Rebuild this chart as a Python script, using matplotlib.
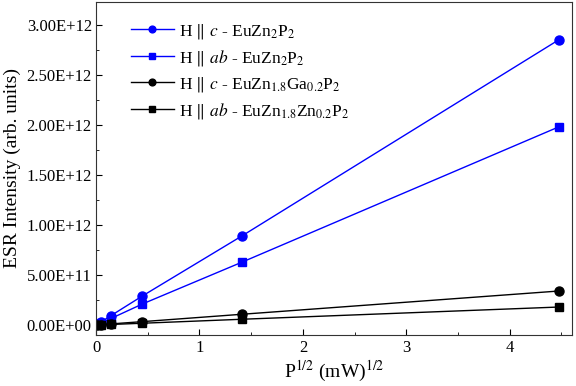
import matplotlib
matplotlib.use("Agg")
import matplotlib.pyplot as plt
from matplotlib.ticker import MultipleLocator, FuncFormatter

plt.rcParams['font.family'] = ['Liberation Serif', 'DejaVu Serif']
plt.rcParams['mathtext.fontset'] = 'stix'

x = [0.01414, 0.04472, 0.1414, 0.4472, 1.4142, 4.4721]
c_pure = [0.009e12, 0.028e12, 0.092e12, 0.29e12, 0.893e12, 2.85e12]
ab_pure = [0.006e12, 0.02e12, 0.064e12, 0.21e12, 0.63e12, 1.98e12]
c_ga = [0.001e12, 0.0034e12, 0.011e12, 0.034e12, 0.108e12, 0.34e12]
ab_zn = [0.0006e12, 0.0018e12, 0.0057e12, 0.018e12, 0.058e12, 0.18e12]

labels = [r'H $\Vert$ $c$ - EuZn$_2$P$_2$',
          r'H $\Vert$ $ab$ - EuZn$_2$P$_2$',
          r'H $\Vert$ $c$ - EuZn$_{1.8}$Ga$_{0.2}$P$_2$',
          r'H $\Vert$ $ab$ - EuZn$_{1.8}$Zn$_{0.2}$P$_2$']

fig = plt.figure(figsize=(5.76, 3.86), dpi=100)
ax = fig.add_axes([0.1667, 0.132, 0.826, 0.863])

ax.plot(x, c_pure, '-o', color='#0000ff', lw=1, ms=6.5, label=labels[0])
ax.plot(x, ab_pure, '-s', color='#0000ff', lw=1, ms=6, label=labels[1])
ax.plot(x, c_ga, '-o', color='black', lw=1, ms=6.5, label=labels[2])
ax.plot(x, ab_zn, '-s', color='black', lw=1, ms=6, label=labels[3])

ax.set_xlim(0, 4.6)
ax.set_ylim(-1.0e11, 3.23e12)
ax.xaxis.set_major_locator(MultipleLocator(1))
ax.xaxis.set_minor_locator(MultipleLocator(0.5))
ax.yaxis.set_major_locator(MultipleLocator(5e11))
ax.yaxis.set_minor_locator(MultipleLocator(2.5e11))
ax.yaxis.set_major_formatter(FuncFormatter(lambda v, p: ('%.2E' % v)))
ax.tick_params(which='both', direction='in', labelsize=12)
ax.tick_params(which='major', length=4)
ax.tick_params(which='minor', length=2.5)
ax.tick_params(axis='y', pad=3)
for s in ax.spines.values():
    s.set_color('#333333')

ax.set_xlabel(r'P$^{1/2}$ (mW)$^{1/2}$', fontsize=14, labelpad=2)
ax.set_ylabel('ESR Intensity (arb. units)', fontsize=14, labelpad=4)

ax.legend(loc='upper left', frameon=False, prop={'size': 12.5}, handlelength=2.5,
          handletextpad=0.3, bbox_to_anchor=(0.04, 0.988), labelspacing=0.41,
          markerscale=0.75)

fig.savefig('out.png', dpi=100)
